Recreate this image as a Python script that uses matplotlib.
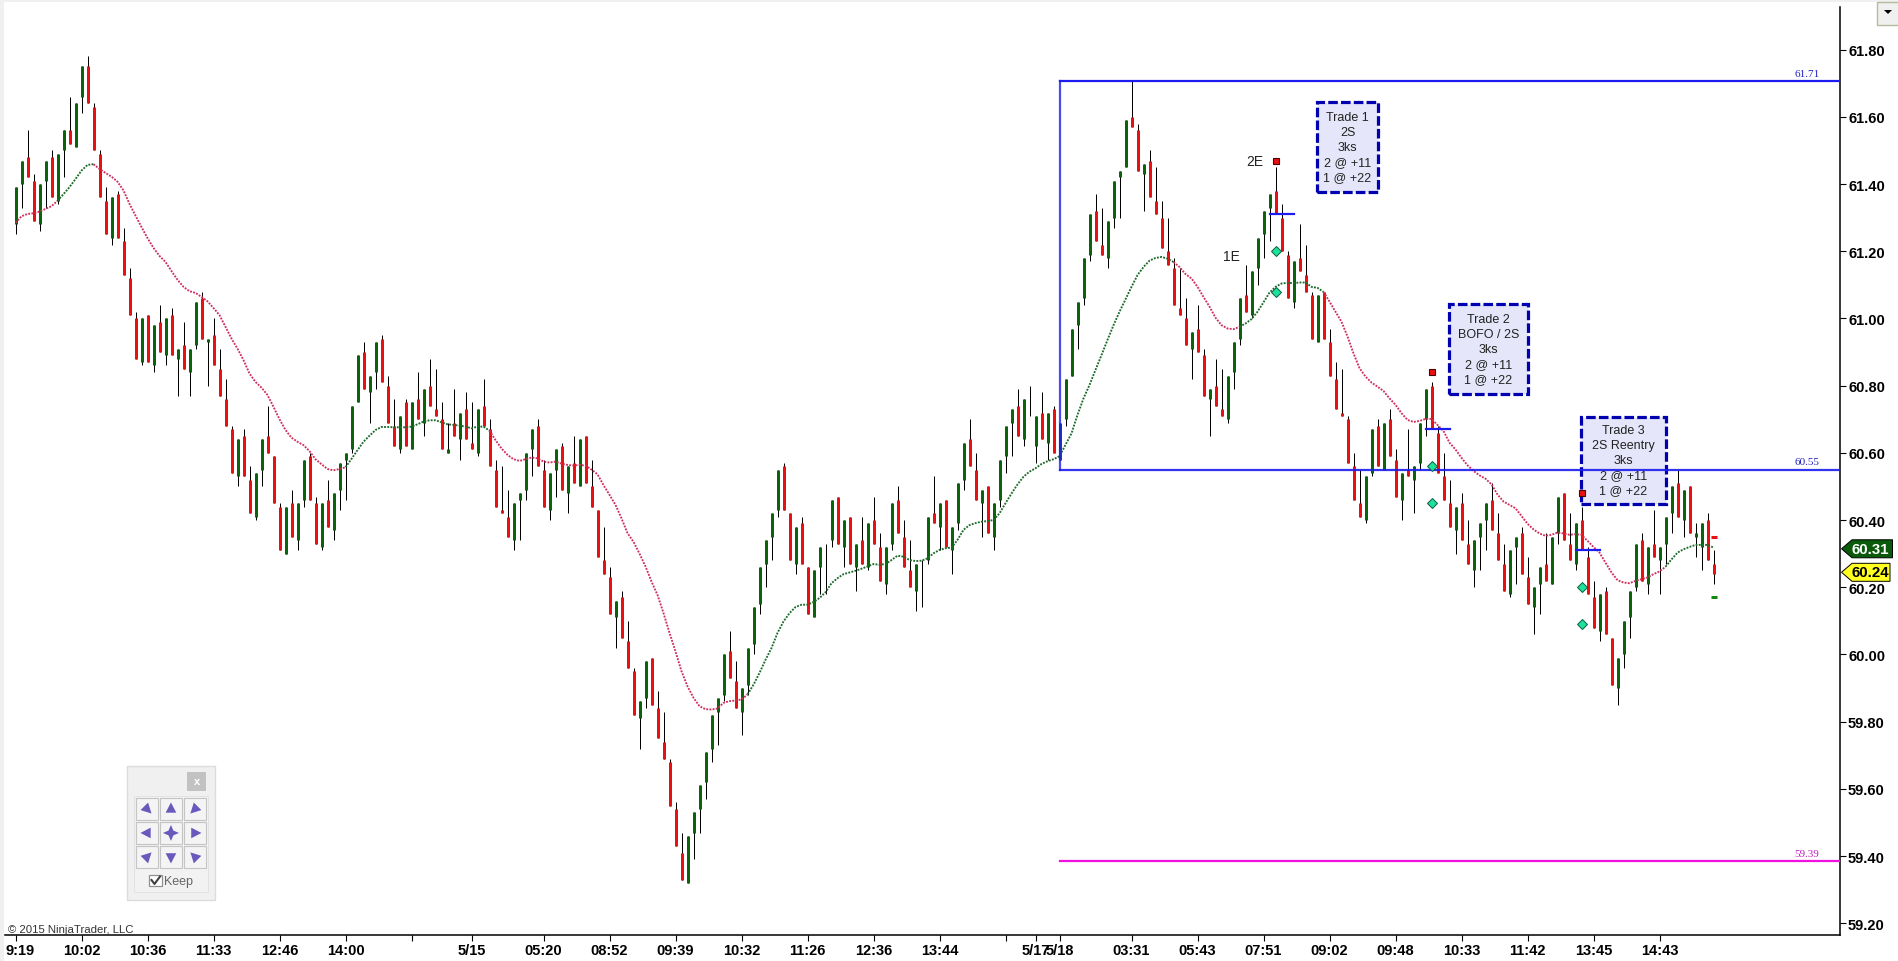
# -*- coding: utf-8 -*-
"""
NinjaTrader style candlestick chart with trade notes
"""
import numpy as np
import matplotlib
matplotlib.use("Agg")
import matplotlib.pyplot as plt
from matplotlib.patches import Rectangle, Polygon
from matplotlib.transforms import ScaledTranslation

plt.rcParams['font.family'] = ['Liberation Sans', 'DejaVu Sans']

# candles
opens = [
    61.28,61.40,61.48,61.41,61.28,61.41,61.48,61.35,61.50,61.56,
    61.51,61.66,61.75,61.63,61.49,61.35,61.24,61.37,61.23,61.12,
    61.00,60.87,61.01,60.86,60.99,60.89,61.01,60.88,60.92,60.84,
    60.92,61.06,60.93,60.95,60.85,60.76,60.67,60.53,60.65,60.52,
    60.41,60.55,60.65,60.59,60.44,60.30,60.45,60.34,60.46,60.59,
    60.45,60.32,60.46,60.37,60.49,60.58,60.61,60.75,60.90,60.78,
    60.84,60.94,60.80,60.68,60.61,60.75,60.61,60.76,60.69,60.80,
    60.73,60.70,60.60,60.69,60.64,60.73,60.63,60.60,60.74,60.67,
    60.55,60.43,60.41,60.34,60.46,60.49,60.61,60.68,60.55,60.43,
    60.55,60.62,60.48,60.57,60.50,60.65,60.50,60.43,60.28,60.23,
    60.11,60.17,60.04,59.95,59.81,59.87,59.99,59.84,59.74,59.68,
    59.54,59.41,59.32,59.47,59.54,59.62,59.72,59.83,59.88,60.01,
    59.92,59.83,59.91,60.03,60.15,60.27,60.35,60.43,60.56,60.42,
    60.27,60.39,60.26,60.11,60.26,60.18,60.34,60.47,60.32,60.41,
    60.26,60.34,60.26,60.40,60.32,60.21,60.33,60.46,60.35,60.25,
    60.19,60.14,60.28,60.42,60.38,60.46,60.31,60.39,60.52,60.64,
    60.55,60.45,60.50,60.35,60.46,60.59,60.69,60.74,60.64,60.71,
    60.62,60.72,60.63,60.73,60.58,60.70,60.83,60.98,61.06,61.19,
    61.32,61.22,61.18,61.30,61.42,61.45,61.60,61.56,61.43,61.47,
    61.35,61.30,61.20,61.15,61.03,61.00,60.91,60.97,60.89,60.76,
    60.80,60.73,60.70,60.84,60.94,61.07,61.01,61.15,61.25,61.33,
    61.38,61.30,61.19,61.05,61.18,61.13,61.07,60.93,61.08,60.93,
    60.82,60.72,60.70,60.56,60.45,60.40,60.54,60.68,60.55,60.70,
    60.58,60.46,60.55,60.52,60.57,60.70,60.80,60.66,60.53,60.45,
    60.37,60.45,60.33,60.25,60.35,60.40,60.46,60.36,60.27,60.18,
    60.32,60.36,60.23,60.14,60.21,60.27,60.21,60.36,60.48,60.33,
    60.27,60.40,60.29,60.17,60.07,60.19,60.05,59.90,60.00,60.11,
    60.20,60.34,60.21,60.33,60.28,60.33,60.42,60.51,60.40,60.50,
    60.35,60.32,60.40,60.27,
]
closes = [
    61.39,61.47,61.42,61.29,61.40,61.47,61.36,61.49,61.56,61.52,
    61.64,61.75,61.64,61.50,61.36,61.25,61.36,61.24,61.13,61.01,
    60.88,61.00,60.87,60.98,60.90,61.00,60.89,60.91,60.85,60.91,
    61.05,60.94,60.94,60.86,60.77,60.68,60.54,60.64,60.53,60.42,
    60.54,60.64,60.60,60.45,60.31,60.44,60.35,60.45,60.58,60.46,
    60.33,60.45,60.38,60.48,60.57,60.60,60.74,60.89,60.79,60.83,
    60.93,60.81,60.69,60.62,60.71,60.62,60.75,60.70,60.79,60.74,
    60.71,60.61,60.61,60.65,60.72,60.64,60.61,60.73,60.68,60.56,
    60.44,60.42,60.35,60.45,60.48,60.60,60.67,60.56,60.44,60.54,
    60.61,60.49,60.56,60.51,60.64,60.51,60.44,60.29,60.24,60.12,
    60.16,60.05,59.96,59.82,59.86,59.98,59.85,59.75,59.69,59.55,
    59.43,59.33,59.46,59.53,59.61,59.71,59.82,59.87,60.00,59.93,
    59.84,59.90,60.02,60.14,60.26,60.34,60.42,60.55,60.43,60.28,
    60.38,60.27,60.12,60.25,60.32,60.18,60.46,60.33,60.40,60.27,
    60.33,60.27,60.39,60.33,60.22,60.32,60.45,60.36,60.26,60.20,
    60.27,60.14,60.41,60.39,60.45,60.32,60.38,60.51,60.63,60.56,
    60.46,60.49,60.36,60.45,60.58,60.68,60.73,60.65,60.76,60.71,
    60.71,60.64,60.72,60.60,60.69,60.82,60.97,61.05,61.18,61.31,
    61.23,61.19,61.29,61.41,61.44,61.59,61.57,61.44,61.46,61.36,
    61.31,61.21,61.16,61.04,61.01,60.92,60.96,60.90,60.77,60.79,
    60.74,60.71,60.83,60.93,61.06,61.02,61.14,61.24,61.32,61.37,
    61.31,61.20,61.06,61.17,61.14,61.08,60.94,61.07,60.94,60.83,
    60.73,60.71,60.57,60.46,60.41,60.53,60.67,60.56,60.69,60.59,
    60.47,60.54,60.53,60.56,60.69,60.79,60.67,60.54,60.46,60.38,
    60.44,60.34,60.27,60.34,60.39,60.45,60.37,60.28,60.19,60.31,
    60.35,60.24,60.15,60.20,60.26,60.22,60.35,60.47,60.34,60.28,
    60.39,60.31,60.18,60.08,60.18,60.06,59.91,59.99,60.10,60.19,
    60.33,60.22,60.32,60.29,60.32,60.41,60.50,60.41,60.49,60.36,
    60.36,60.39,60.28,60.24,
]
highs = [
    61.39,61.47,61.56,61.43,61.40,61.47,61.50,61.49,61.56,61.66,
    61.64,61.75,61.78,61.64,61.50,61.39,61.36,61.38,61.27,61.15,
    61.02,61.00,61.01,60.98,61.04,61.00,61.03,60.91,60.99,60.91,
    61.05,61.08,60.94,61.00,60.91,60.82,60.68,60.64,60.67,60.56,
    60.54,60.64,60.74,60.59,60.45,60.44,60.49,60.45,60.58,60.60,
    60.47,60.45,60.52,60.48,60.57,60.60,60.74,60.89,60.93,60.83,
    60.93,60.95,60.83,60.76,60.71,60.76,60.75,60.84,60.79,60.88,
    60.85,60.75,60.69,60.79,60.72,60.78,60.75,60.73,60.82,60.70,
    60.58,60.56,60.49,60.45,60.48,60.60,60.67,60.70,60.58,60.54,
    60.61,60.63,60.56,60.65,60.64,60.65,60.58,60.43,60.38,60.26,
    60.16,60.19,60.10,59.96,59.86,59.98,59.99,59.89,59.83,59.69,
    59.56,59.47,59.46,59.53,59.61,59.71,59.82,59.87,60.00,60.07,
    59.98,59.90,60.02,60.14,60.26,60.34,60.42,60.55,60.57,60.42,
    60.38,60.41,60.26,60.25,60.32,60.33,60.46,60.47,60.40,60.41,
    60.33,60.41,60.39,60.47,60.36,60.32,60.45,60.50,60.40,60.34,
    60.27,60.28,60.41,60.53,60.45,60.46,60.38,60.51,60.63,60.70,
    60.60,60.49,60.50,60.45,60.58,60.68,60.73,60.79,60.76,60.80,
    60.71,60.78,60.72,60.74,60.69,60.82,60.97,61.05,61.18,61.31,
    61.37,61.33,61.29,61.41,61.44,61.59,61.71,61.58,61.46,61.50,
    61.45,61.35,61.30,61.18,61.15,61.06,60.96,61.04,60.91,60.79,
    60.88,60.85,60.83,60.93,61.06,61.16,61.14,61.24,61.32,61.37,
    61.45,61.34,61.20,61.17,61.28,61.22,61.08,61.07,61.08,60.97,
    60.87,60.85,60.71,60.60,60.55,60.53,60.67,60.70,60.69,60.73,
    60.61,60.54,60.67,60.56,60.69,60.79,60.81,60.68,60.60,60.52,
    60.44,60.48,60.40,60.34,60.39,60.45,60.51,60.42,60.33,60.31,
    60.35,60.38,60.29,60.20,60.26,60.36,60.35,60.47,60.48,60.42,
    60.39,60.44,60.32,60.22,60.18,60.20,60.05,59.99,60.10,60.19,
    60.33,60.36,60.32,60.43,60.32,60.41,60.50,60.55,60.49,60.50,
    60.39,60.39,60.42,60.31,
]
lows = [
    61.25,61.33,61.42,61.29,61.26,61.33,61.36,61.34,61.42,61.52,
    61.51,61.61,61.64,61.50,61.36,61.25,61.22,61.24,61.13,61.01,
    60.88,60.86,60.87,60.84,60.90,60.86,60.89,60.77,60.85,60.77,
    60.91,60.94,60.80,60.86,60.77,60.68,60.54,60.50,60.53,60.42,
    60.40,60.50,60.60,60.45,60.31,60.30,60.35,60.31,60.44,60.46,
    60.33,60.31,60.38,60.34,60.43,60.46,60.60,60.75,60.79,60.69,
    60.79,60.81,60.69,60.62,60.60,60.62,60.61,60.70,60.65,60.74,
    60.71,60.61,60.60,60.65,60.58,60.64,60.61,60.59,60.68,60.56,
    60.44,60.42,60.35,60.31,60.34,60.46,60.53,60.56,60.44,60.40,
    60.47,60.49,60.42,60.51,60.50,60.51,60.44,60.29,60.24,60.12,
    60.02,60.05,59.96,59.82,59.72,59.84,59.85,59.75,59.69,59.55,
    59.43,59.33,59.32,59.39,59.47,59.57,59.68,59.73,59.86,59.93,
    59.84,59.76,59.88,60.00,60.12,60.20,60.28,60.41,60.43,60.28,
    60.24,60.27,60.12,60.11,60.18,60.18,60.32,60.33,60.26,60.27,
    60.19,60.27,60.25,60.33,60.22,60.18,60.31,60.36,60.26,60.20,
    60.13,60.14,60.27,60.39,60.31,60.32,60.24,60.37,60.49,60.56,
    60.46,60.35,60.36,60.31,60.44,60.54,60.59,60.65,60.62,60.71,
    60.57,60.64,60.58,60.60,60.58,60.68,60.83,60.91,61.04,61.17,
    61.23,61.19,61.15,61.27,61.30,61.45,61.57,61.44,61.32,61.36,
    61.31,61.21,61.16,61.04,61.01,60.92,60.82,60.90,60.77,60.65,
    60.74,60.71,60.69,60.79,60.92,61.02,61.00,61.10,61.18,61.23,
    61.31,61.20,61.06,61.03,61.14,61.08,60.94,60.93,60.94,60.83,
    60.73,60.71,60.57,60.46,60.41,60.39,60.53,60.56,60.55,60.59,
    60.47,60.40,60.53,60.42,60.55,60.65,60.67,60.54,60.46,60.38,
    60.30,60.34,60.27,60.20,60.25,60.31,60.37,60.28,60.19,60.17,
    60.21,60.24,60.15,60.06,60.12,60.22,60.21,60.33,60.34,60.28,
    60.25,60.31,60.18,60.08,60.04,60.06,59.91,59.85,59.96,60.05,
    60.19,60.22,60.18,60.29,60.18,60.27,60.36,60.41,60.35,60.36,
    60.29,60.25,60.28,60.21,
]

# dotted moving average, one value per bar
ma_vals = [
    61.285,61.304,61.311,61.313,61.318,61.326,61.334,61.350,61.370,61.391,
    61.415,61.440,61.457,61.459,61.445,61.433,61.422,61.407,61.381,61.341,
    61.306,61.272,61.239,61.210,61.186,61.168,61.141,61.115,61.094,61.081,
    61.076,61.064,61.051,61.031,61.010,60.975,60.940,60.910,60.876,60.836,
    60.811,60.794,60.772,60.737,60.700,60.668,60.645,60.633,60.623,60.605,
    60.581,60.566,60.552,60.548,60.552,60.557,60.582,60.608,60.633,60.651,
    60.668,60.677,60.677,60.676,60.676,60.676,60.678,60.685,60.693,60.697,
    60.697,60.691,60.685,60.683,60.681,60.678,60.673,60.678,60.678,60.666,
    60.638,60.613,60.594,60.581,60.576,60.581,60.586,60.584,60.574,60.571,
    60.574,60.568,60.564,60.562,60.564,60.562,60.550,60.536,60.504,60.475,
    60.445,60.405,60.361,60.335,60.300,60.262,60.217,60.177,60.123,60.064,
    60.009,59.950,59.905,59.871,59.846,59.837,59.836,59.839,59.856,59.861,
    59.863,59.866,59.881,59.910,59.945,59.984,60.019,60.064,60.098,60.123,
    60.141,60.148,60.148,60.156,60.168,60.185,60.212,60.227,60.239,60.244,
    60.249,60.255,60.262,60.269,60.267,60.269,60.281,60.294,60.291,60.281,
    60.278,60.279,60.286,60.301,60.311,60.316,60.318,60.341,60.371,60.385,
    60.391,60.395,60.397,60.400,60.420,60.450,60.479,60.506,60.529,60.544,
    60.554,60.567,60.575,60.581,60.590,60.624,60.658,60.713,60.762,60.802,
    60.847,60.891,60.936,60.980,61.020,61.057,61.094,61.129,61.153,61.172,
    61.180,61.183,61.178,61.168,61.153,61.132,61.119,61.094,61.064,61.035,
    61.002,60.980,60.970,60.968,60.975,60.985,60.998,61.020,61.048,61.077,
    61.094,61.104,61.106,61.105,61.107,61.107,61.094,61.091,61.079,61.050,
    61.020,60.990,60.946,60.896,60.852,60.827,60.809,60.797,60.784,60.762,
    60.743,60.718,60.698,60.692,60.695,60.701,60.701,60.683,60.665,60.630,
    60.610,60.585,60.563,60.546,60.533,60.523,60.506,60.476,60.455,60.445,
    60.435,60.412,60.389,60.372,60.360,60.353,60.356,60.363,60.360,60.356,
    60.358,60.356,60.338,60.320,60.303,60.273,60.244,60.221,60.214,60.212,
    60.219,60.224,60.229,60.239,60.247,60.261,60.283,60.303,60.313,60.320,
    60.326,60.326,60.326,60.318,
]
# bar where the average changes colour, first run is red
ma_breaks = [0, 7, 13, 55, 79, 122, 193, 204, 218, 275, 283]

# x axis ticks, by bar number
tick_bars = [0, 11, 22, 33, 44, 55, 66, 76, 88, 99, 110, 121, 132, 143, 154, 165,
             170, 174, 186, 197, 208, 219, 230, 241, 252, 263, 274]
tick_labels = ['9:19', '10:02', '10:36', '11:33', '12:46', '14:00', '', '5/15', '05:20',
               '08:52', '09:39', '10:32', '11:26', '12:36', '13:44', '', '5/17', '5/18',
               '03:31', '05:43', '07:51', '09:02', '09:48', '10:33', '11:42', '13:45', '14:43']
price_ticks = [59.2, 59.4, 59.6, 59.8, 60.0, 60.2, 60.4, 60.6, 60.8, 61.0, 61.2, 61.4, 61.6, 61.8]

# range drawing
range_start = 174
range_high = 61.706
range_low = 60.55
range_target = 59.385

# trades
stop_bars = [210, 236, 261]
stop_prices = [61.47, 60.84, 60.48]
target_bars = [210, 210, 236, 236, 261, 261]
target_prices = [61.20, 61.08, 60.56, 60.45, 60.20, 60.09]
entry_bars = [209, 235, 260]
entry_prices = [61.31, 60.67, 60.31]
note_texts = ['Trade 1\n2S\n3ks\n2 @ +11\n1 @ +22',
              'Trade 2\nBOFO / 2S\n3ks\n2 @ +11\n1 @ +22',
              'Trade 3\n2S Reentry\n3ks\n2 @ +11\n1 @ +22']
note_left = [216.9, 238.9, 260.9]
note_right = [227.1, 252.1, 275.1]
note_top = [61.643, 61.044, 60.708]
note_bottom = [61.377, 60.775, 60.448]

RED = '#e81010'
GREEN = '#0b640b'
MA_RED = '#cf2f5c'
MA_GREEN = '#1d6b2b'
BLUE = '#1c1cf0'

W, H = 1899, 962
fig = plt.figure(figsize=(W / 100, H / 100), dpi=100, facecolor='white')
ax = fig.add_axes([5 / W, 1 - 936 / H, 1835 / W, 933 / H])
ax.set_xlim(-1.75, 304.08)
ax.set_ylim(59.165, 61.9418)

x = np.arange(len(opens))
o = np.array(opens)
c = np.array(closes)
colors = [GREEN if c[i] >= o[i] else RED for i in x]
# wicks 1px, bodies 3px, both vertical lines so they land on the same pixel column
ax.vlines(x, lows, highs, colors='black', lw=0.72, capstyle='butt', zorder=2)
ax.vlines(x, np.minimum(o, c), np.maximum(o, c), colors=colors, lw=2.16, capstyle='butt', zorder=3)

# moving average, run by run
ma_colors = [MA_RED, MA_GREEN]
for k in range(len(ma_breaks) - 1):
    a, b = ma_breaks[k], ma_breaks[k + 1]
    ax.plot(x[a:b + 1], ma_vals[a:b + 1], color=ma_colors[k % 2], lw=1.35,
            linestyle=(0, (1, 0.7)), zorder=4)

# range box and levels
ax.plot([range_start, range_start], [range_low, range_high], color=BLUE, lw=1.6, alpha=0.8, zorder=5)
ax.plot([range_start, 304.08], [range_high, range_high], color=BLUE, lw=1.6, zorder=5)
ax.plot([range_start, 304.08], [range_target, range_target], color='#f010e0', lw=1.6, zorder=5)

# trade notes
for i in range(3):
    ax.add_patch(Rectangle((note_left[i], note_bottom[i]), note_right[i] - note_left[i],
                           note_top[i] - note_bottom[i], facecolor='#e6e6fa', edgecolor='#0000b0',
                           lw=2.3, linestyle=(0, (3, 1)), zorder=5))
    ax.text((note_left[i] + note_right[i]) / 2, (note_top[i] + note_bottom[i]) / 2, note_texts[i],
            ha='center', va='center', fontsize=9.0, linespacing=1.32, color='#222222', zorder=6)
ax.plot([range_start, 304.08], [range_low, range_low], color=BLUE, lw=1.6, alpha=0.9, zorder=6)

for b, p in zip(entry_bars, entry_prices):
    ax.plot([b, b + 4], [p, p], color=BLUE, lw=1.6, zorder=7)
ax.plot(stop_bars, stop_prices, 's', color='#e81010', mec='#500000', mew=0.8, ms=4.6, zorder=7)
ax.plot(target_bars, target_prices, 'D', color='#1fe29a', mec='#0b5c45', mew=0.7, ms=5.3, zorder=7)

# last bar markers
ax.plot([282.5, 283.5], [60.35, 60.35], color=RED, lw=2.2, solid_capstyle='butt', zorder=7)
ax.plot([282.5, 283.5], [60.17, 60.17], color='#0f8a10', lw=2.2, solid_capstyle='butt', zorder=7)

ax.text(206.5, 61.47, '2E', ha='center', va='center', fontsize=10, color='#222222', zorder=7)
ax.text(202.6, 61.185, '1E', ha='center', va='center', fontsize=10, color='#222222', zorder=7)

for p, col, label in [(range_high, '#2020c0', '61.71'), (range_low, '#2020c0', '60.55'),
                      (range_target, '#c020c0', '59.39')]:
    ax.annotate(label, (298.6, p), xytext=(0, 2.5), textcoords='offset points', ha='center', va='bottom',
                fontsize=8, color=col, family='Liberation Serif', zorder=7)

ax.text(0.0015, 0.0065, '\u00a9 2015 NinjaTrader, LLC', transform=ax.transAxes, ha='left', va='center',
        fontsize=8.2, color='#333333')

# axes
for side in ['left', 'top']:
    ax.spines[side].set_visible(False)
for side in ['right', 'bottom']:
    ax.spines[side].set_linewidth(1.1)
ax.spines['right'].set_bounds(59.165, 61.927)
ax.patch.set_alpha(0)
ax.yaxis.tick_right()
ax.set_yticks(price_ticks)
ax.set_yticklabels(['%.2f' % p for p in price_ticks], fontsize=10.5, fontweight='bold')
ax.set_xticks(tick_bars)
ax.set_xticklabels(tick_labels, fontsize=10.5, fontweight='bold')
ax.tick_params(axis='both', length=4.3, width=0.8, pad=1.5)

# first label sits right of its tick so it stays inside the window
first = ax.get_xticklabels()[0]
first.set_transform(first.get_transform() + ScaledTranslation(5 / 100, 0, fig.dpi_scale_trans))

# window furniture in pixel coordinates
ui = fig.add_axes([0, 0, 1, 1], facecolor='none', zorder=10)
ui.set_xlim(0, W)
ui.set_ylim(H, 0)
ui.axis('off')


def box(x0, y0, x1, y1, face, edge='none', lw=0.7):
    ui.add_patch(Rectangle((x0, y0), x1 - x0, y1 - y0, facecolor=face, edgecolor=edge, lw=lw))


box(0, 0, 4, H, '#f0f0f0')
box(0, 0, W, 3, '#f0f0f0')
box(328, 0, 351, 1.2, '#4a90d9')

# dropdown button
box(1877, 3, 1899, 26, '#f0f0f0', '#b8b89a', 1.0)
ui.add_patch(Polygon([[1884, 11], [1892, 11], [1888, 15]], facecolor='black'))

# price tags
tags = [(60.31, '#0b5a0b', 'white', 1892.5), (60.24, '#ffff20', 'black', 1890)]
for price, face, txt, right in tags:
    yc = H - ax.transData.transform((0, price))[1] - 1.5
    ui.add_patch(Polygon([[1841.5, yc], [1852, yc - 9], [right, yc - 9], [right, yc + 9], [1852, yc + 9]],
                         facecolor=face, edgecolor='black', lw=0.7))
    ui.text(1870.5, yc, '%.2f' % price, ha='center', va='center', fontsize=10.8, fontweight='bold', color=txt)

# chart trader arrows panel
box(127.3, 767, 214.7, 900.7, '#f0f0f0', '#dcdcdc', 1.0)
box(134.3, 797, 207.7, 893.3, '#f2f2f2', '#e2e2e2', 0.7)
box(187.3, 773, 206, 792, '#c2c2c2')
ui.text(196.6, 782, 'x', ha='center', va='center', fontsize=8, fontweight='bold', color='white')

arrow_col = '#6a58bc'
arrow_angles = [[-45, 90, 225], [180, None, 0], [45, -90, 135]]
for row in range(3):
    for col in range(3):
        bx, by = 136.3 + 24 * col, 799.3 + 24 * row
        box(bx, by, bx + 21.3, by + 21.3, '#f4f4f4', '#c4c4c4', 0.8)
        cx, cy = bx + 10.65, by + 10.65
        ang = arrow_angles[row][col]
        if ang is None:
            star = [[cx - 8, cy], [cx - 2.4, cy - 2.4], [cx, cy - 8], [cx + 2.4, cy - 2.4],
                    [cx + 8, cy], [cx + 2.4, cy + 2.4], [cx, cy + 8], [cx - 2.4, cy + 2.4]]
            ui.add_patch(Polygon(star, facecolor=arrow_col))
        else:
            t = np.radians([ang, ang + 125, ang - 125])
            ui.add_patch(Polygon(np.column_stack([cx + 6.5 * np.cos(t), cy - 6.5 * np.sin(t)]),
                                 facecolor=arrow_col))

box(149.3, 876, 162, 887.3, 'white', '#909090', 0.9)
ui.plot([151.5, 154.5, 160], [881, 885, 877.5], color='#404040', lw=1.5)
ui.text(164.3, 882, 'Keep', ha='left', va='center', fontsize=9, color='#666666')

fig.savefig('out.png', dpi=100)
